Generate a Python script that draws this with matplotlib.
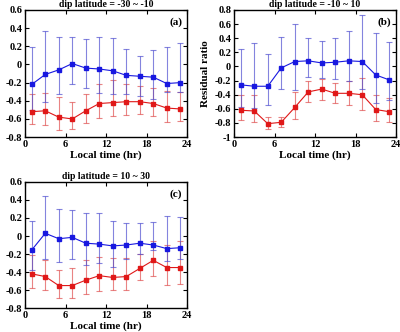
import matplotlib
matplotlib.use('Agg')
import matplotlib.pyplot as plt
import numpy as np

# local time (hr)
lt = [1, 3, 5, 7, 9, 11, 13, 15, 17, 19, 21, 23]

# panel (a) dip latitude = -30 ~ -10
a_blue = [-0.22, -0.11, -0.06, 0.01, -0.04, -0.05, -0.07, -0.12, -0.13, -0.14, -0.21, -0.20]
a_blue_hi = [0.19, 0.37, 0.30, 0.30, 0.28, 0.30, 0.29, 0.17, 0.09, 0.16, 0.19, 0.24]
a_blue_lo = [-0.50, -0.41, -0.32, -0.21, -0.26, -0.31, -0.32, -0.32, -0.35, -0.38, -0.30, -0.30]
a_red = [-0.52, -0.51, -0.58, -0.60, -0.51, -0.43, -0.42, -0.41, -0.41, -0.43, -0.48, -0.49]
a_red_hi = [-0.33, -0.31, -0.36, -0.41, -0.33, -0.21, -0.17, -0.21, -0.24, -0.26, -0.29, -0.30]
a_red_lo = [-0.66, -0.67, -0.72, -0.71, -0.64, -0.59, -0.57, -0.56, -0.54, -0.57, -0.63, -0.62]

# panel (b) dip latitude = -10 ~ 10
b_blue = [-0.26, -0.28, -0.28, -0.02, 0.07, 0.08, 0.05, 0.06, 0.08, 0.07, -0.12, -0.19]
b_blue_hi = [0.25, 0.33, 0.17, 0.42, 0.60, 0.41, 0.36, 0.40, 0.50, 0.73, 0.48, 0.34]
b_blue_lo = [-0.57, -0.59, -0.55, -0.32, -0.33, -0.15, -0.17, -0.18, -0.21, -0.32, -0.52, -0.48]
b_red = [-0.62, -0.63, -0.81, -0.79, -0.58, -0.36, -0.32, -0.38, -0.38, -0.40, -0.61, -0.64]
b_red_hi = [-0.40, -0.41, -0.71, -0.71, -0.36, -0.21, -0.18, -0.24, -0.21, -0.17, -0.40, -0.44]
b_red_lo = [-0.76, -0.78, -0.88, -0.85, -0.74, -0.50, -0.47, -0.51, -0.54, -0.61, -0.77, -0.78]

# panel (c) dip latitude = 10 ~ 30
c_blue = [-0.155, 0.03, -0.03, -0.015, -0.08, -0.09, -0.11, -0.10, -0.08, -0.10, -0.14, -0.13]
c_blue_hi = [0.165, 0.44, 0.305, 0.29, 0.25, 0.26, 0.17, 0.14, 0.14, 0.15, 0.225, 0.21]
c_blue_lo = [-0.38, -0.25, -0.29, -0.25, -0.32, -0.30, -0.34, -0.25, -0.20, -0.15, -0.28, -0.25]
c_red = [-0.42, -0.45, -0.55, -0.55, -0.49, -0.44, -0.46, -0.45, -0.36, -0.27, -0.35, -0.35]
c_red_hi = [-0.21, -0.27, -0.38, -0.35, -0.27, -0.23, -0.24, -0.24, -0.20, -0.06, -0.10, -0.06]
c_red_lo = [-0.58, -0.60, -0.69, -0.69, -0.64, -0.61, -0.60, -0.60, -0.49, -0.44, -0.54, -0.53]

plt.rcParams['font.family'] = ['Liberation Serif', 'DejaVu Serif']
plt.rcParams['font.weight'] = 'bold'
plt.rcParams['font.size'] = 7.5

fig = plt.figure(figsize=(4.0, 3.32), dpi=100)

panels = [
    ([0.0625, 0.587, 0.405, 0.383], 'dip latitude = -30 ~ -10', '(a)', (-0.8, 0.6),
     a_blue, a_blue_hi, a_blue_lo, a_red, a_red_hi, a_red_lo),
    ([0.585, 0.587, 0.405, 0.383], 'dip latitude = -10 ~ 10', '(b)', (-1.0, 0.8),
     b_blue, b_blue_hi, b_blue_lo, b_red, b_red_hi, b_red_lo),
    ([0.0625, 0.072, 0.405, 0.380], 'dip latitude = 10 ~ 30', '(c)', (-0.8, 0.6),
     c_blue, c_blue_hi, c_blue_lo, c_red, c_red_hi, c_red_lo),
]

def fmt(v):
    s = '%.1f' % v
    if abs(v) < 1e-9:
        return '0'
    if s.endswith('.0'):
        return s[:-2]
    return s

for rect, title, tag, ylim, bl, bh, blo, rd, rh, rlo in panels:
    ax = fig.add_axes(rect)
    bl = np.array(bl); bh = np.array(bh); blo = np.array(blo)
    rd = np.array(rd); rh = np.array(rh); rlo = np.array(rlo)
    # error bars first, lighter, then the mean curves on top
    ax.errorbar(lt, rd, yerr=[rd - rlo, rh - rd], fmt='none', ecolor='#e05050',
                elinewidth=0.8, capsize=2, capthick=0.8, alpha=0.7)
    ax.errorbar(lt, bl, yerr=[bl - blo, bh - bl], fmt='none', ecolor='#5050d0',
                elinewidth=0.8, capsize=2, capthick=0.8, alpha=0.7)
    ax.plot(lt, rd, '-s', color='#e01818', lw=0.8, ms=2.6)
    ax.plot(lt, bl, '-s', color='#1818e0', lw=0.8, ms=2.6)
    ax.set_xlim(0, 24)
    ax.set_ylim(*ylim)
    ax.set_xticks([0, 6, 12, 18, 24])
    yt = np.round(np.arange(ylim[0], ylim[1] + 0.01, 0.2), 1)
    ax.set_yticks(yt)
    ax.set_yticklabels([fmt(v) for v in yt])
    ax.tick_params(direction='in', top=True, right=True, length=3, width=0.8, pad=2)
    for s in ax.spines.values():
        s.set_linewidth(1.0)
    ax.set_title(title, fontsize=7, fontweight='bold', pad=2)
    ax.set_xlabel('Local time (hr)', fontsize=8, fontweight='bold', labelpad=1)
    ax.set_ylabel('Residual ratio', fontsize=8, fontweight='bold')
    ax.yaxis.set_label_coords(-0.148, 0.5)
    ax.text(0.93, 0.905, tag, transform=ax.transAxes, ha='center', va='center',
            fontsize=8, fontweight='bold')

plt.savefig('out.png', dpi=100)
